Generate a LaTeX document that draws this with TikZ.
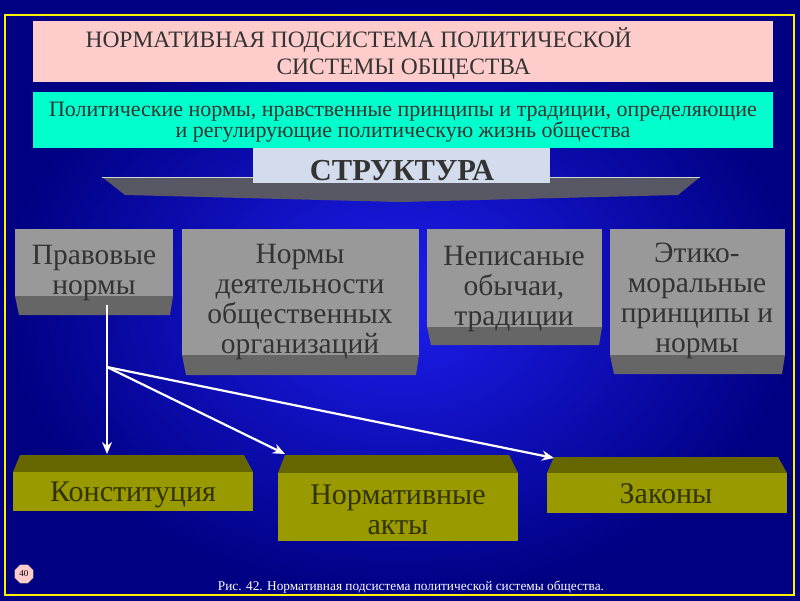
\documentclass[tikz,border=0pt]{standalone}
\usepackage{fontspec}
\setmainfont{Liberation Serif}
\usetikzlibrary{arrows.meta,shapes.geometric}

\definecolor{navy}{RGB}{0,0,130}
\definecolor{brightblue}{RGB}{30,30,240}
\definecolor{titlepink}{RGB}{255,204,204}
\definecolor{defteal}{RGB}{0,255,204}
\definecolor{facegray}{RGB}{153,153,153}
\definecolor{edgegray}{RGB}{102,102,102}
\definecolor{faceolive}{RGB}{153,153,0}
\definecolor{edgeolive}{RGB}{102,102,0}
\definecolor{inkgray}{RGB}{51,51,51}
\definecolor{inkolive}{RGB}{51,51,0}
\definecolor{shelfgray}{RGB}{88,88,100}
\definecolor{paleblue}{RGB}{210,220,236}

\tikzset{
  boxtext/.style={text=inkgray,align=center,font=\fontsize{29.5}{30}\selectfont},
  actext/.style={text=inkolive,align=center,font=\fontsize{30}{30}\selectfont},
  wire/.style={white,line width=2.2pt,-{Stealth[length=12pt,width=10pt]}}
}

\begin{document}
\begin{tikzpicture}[x=1pt,y=-1pt]
% the background and its frame
\shade[inner color=brightblue,outer color=navy] (0,0) rectangle (800,600);
\draw[yellow,line width=2pt] (5,15) rectangle (794,595);
% title and definition
\fill[titlepink] (33,21) rectangle (773,82);
\node[anchor=west,align=left,text=inkgray,font=\fontsize{23.5}{27}\selectfont] (title) at (82,53.5)
  {НОРМАТИВНАЯ ПОДСИСТЕМА ПОЛИТИЧЕСКОЙ\\\hspace*{191pt}СИСТЕМЫ ОБЩЕСТВА};
\fill[defteal] (33,92) rectangle (773,148);
\node[text=inkgray,align=center,font=\fontsize{22}{20}\selectfont] (defin) at (403,122)
  {Политические нормы, нравственные принципы и традиции, определяющие\\и регулирующие политическую жизнь общества};
% the shelf under the heading
\fill[shelfgray] (102,177) -- (700,177) -- (678,195) -- (400,202) -- (125,195) -- cycle;
\draw[white!75!shelfgray,line width=1pt] (102,177) -- (700,177);
\fill[paleblue] (253,148) rectangle (550,183);
\node[text=inkgray,font=\bfseries\fontsize{30.5}{30}\selectfont] (struct) at (402,171) {СТРУКТУРА};
% grey blocks
\foreach \l/\r/\m/\b in {15/173/296/315, 182/419/355/375, 427/602/327/345, 610/785/355/374}{
  \fill[edgegray] (\l,\m) -- (\r,\m) -- (\r-3,\b) -- (\l+4,\b) -- cycle;
  \fill[facegray] (\l,229) rectangle (\r,\m);
}
\node[boxtext] (pravo) at (94,273) {Правовые\\нормы};
\node[boxtext] (orgs) at (300,302) {Нормы\\деятельности\\общественных\\организаций};
\node[boxtext] (custom) at (514,289) {Неписаные\\обычаи,\\традиции};
\node[boxtext] (ethic) at (697,301) {Этико-\\моральные\\принципы и\\нормы};
% olive blocks
\foreach \l/\r/\t/\b/\u in {13/253/472/511/455, 278/518/473/541/455, 547/787/473/513/457}{
  \fill[edgeolive] (\l+7,\u) -- (\r-9,\u) -- (\r,\t) -- (\l,\t) -- cycle;
  \fill[faceolive] (\l,\t) rectangle (\r,\b);
}
\node[actext] (konst) at (133,495) {Конституция};
\node[actext] (akty) at (398,510) {Нормативные\\акты};
\node[actext] (zakony) at (666,494) {Законы};
% the arrows
\coordinate (src) at (107,305);
\coordinate (fork) at (107,367);
\coordinate (toKonst) at (107,454);
\coordinate (toAkty) at (285,454);
\coordinate (toZak) at (554,458);
\draw[wire] (src) -- (toKonst);
\draw[wire] (fork) -- (toAkty);
\draw[wire] (fork) -- (toZak);
% page mark and caption
\node[regular polygon,regular polygon sides=8,fill=titlepink,draw=gray,minimum size=20pt,inner sep=0pt,font=\fontsize{9}{9}\selectfont] (page) at (24,574) {40};
\node[white,font=\fontsize{13.3}{13}\selectfont] (caption) at (411,587) {Рис. 42. Нормативная подсистема политической системы общества.};
\end{tikzpicture}
\end{document}
